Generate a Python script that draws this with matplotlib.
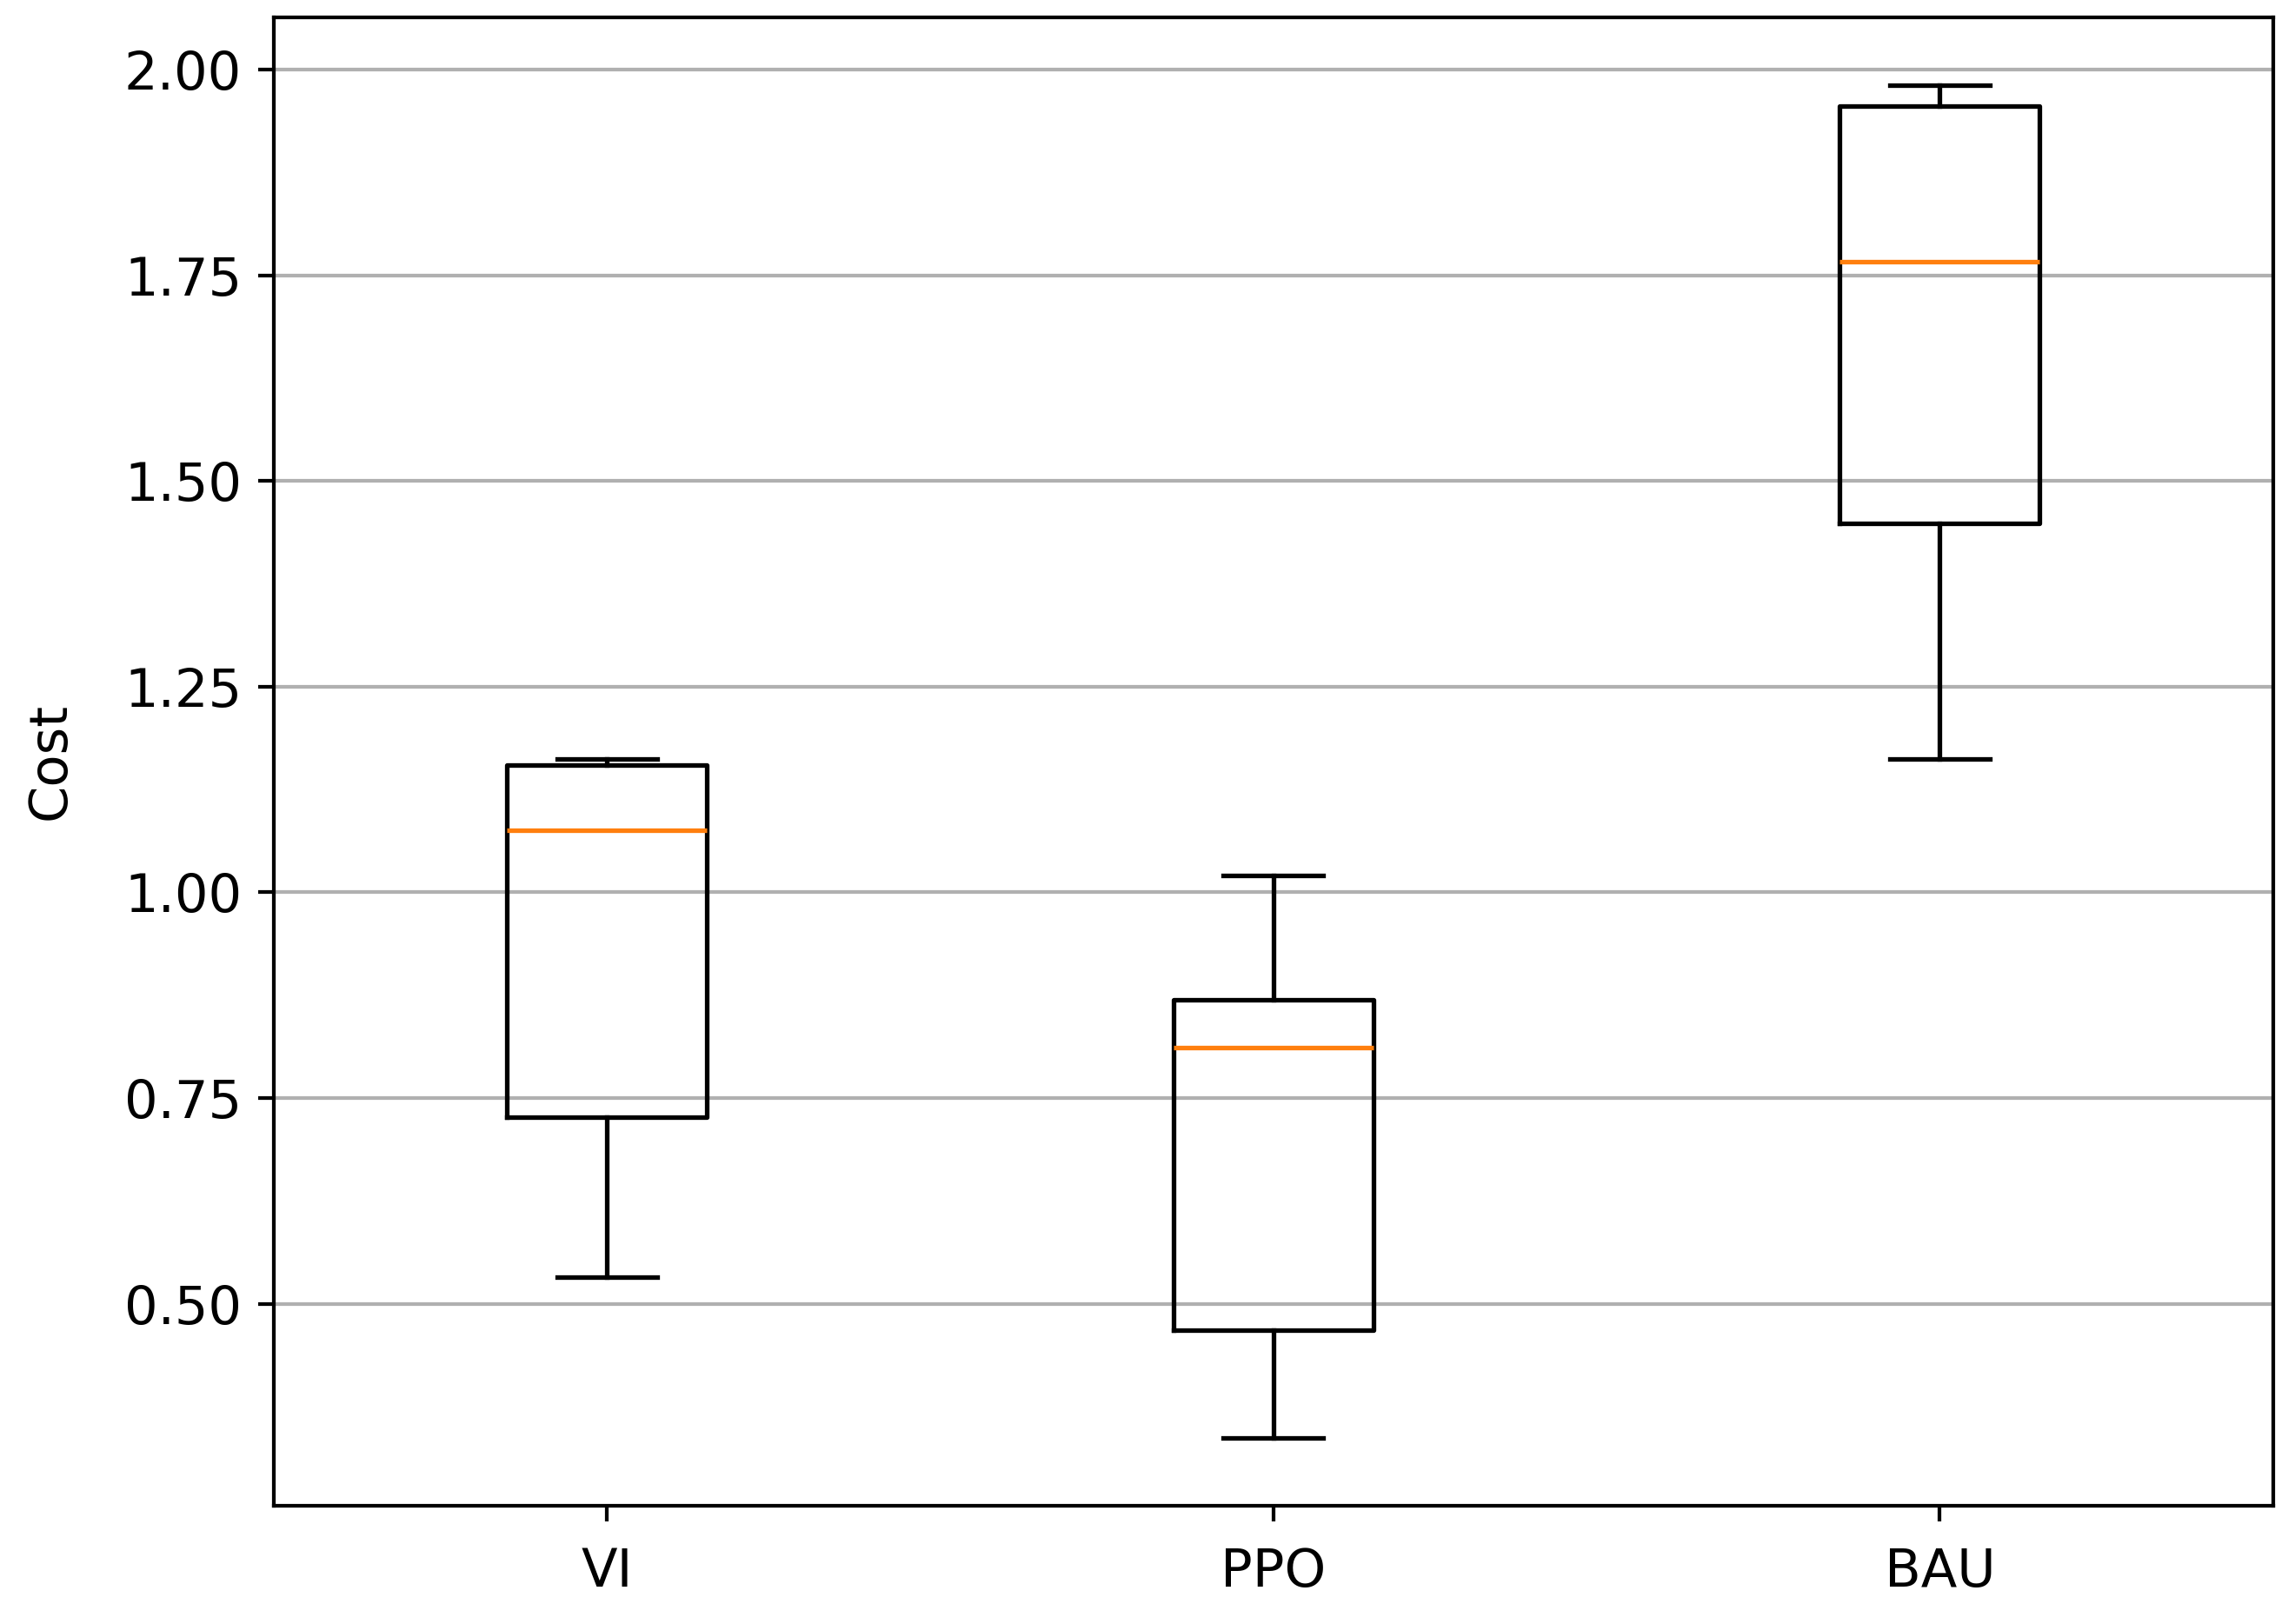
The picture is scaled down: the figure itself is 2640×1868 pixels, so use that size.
import matplotlib
matplotlib.use('Agg')
import matplotlib.pyplot as plt

labels = ['VI', 'PPO', 'BAU']
whislo = [0.532, 0.337, 1.162]
q1 = [0.727, 0.468, 1.448]
med = [1.075, 0.811, 1.766]
q3 = [1.155, 0.869, 1.956]
whishi = [1.162, 1.020, 1.981]

stats = []
for i in range(len(labels)):
    stats.append({'label': labels[i], 'whislo': whislo[i], 'q1': q1[i],
                  'med': med[i], 'q3': q3[i], 'whishi': whishi[i], 'fliers': []})

plt.rcParams['font.size'] = 11.5
plt.rcParams['lines.linewidth'] = 1.15
fig = plt.figure(figsize=(2640 / 380, 1868 / 380), dpi=380)
ax = fig.add_axes([0.1193, 0.0730, 0.8711, 0.9162])
ax.bxp(stats, showfliers=False)
ax.yaxis.grid(True)
ax.set_axisbelow(True)
ax.tick_params(axis='x', pad=5.5)
ax.set_ylabel('Cost', labelpad=10.5)

fig.savefig('out.png', dpi=380)
